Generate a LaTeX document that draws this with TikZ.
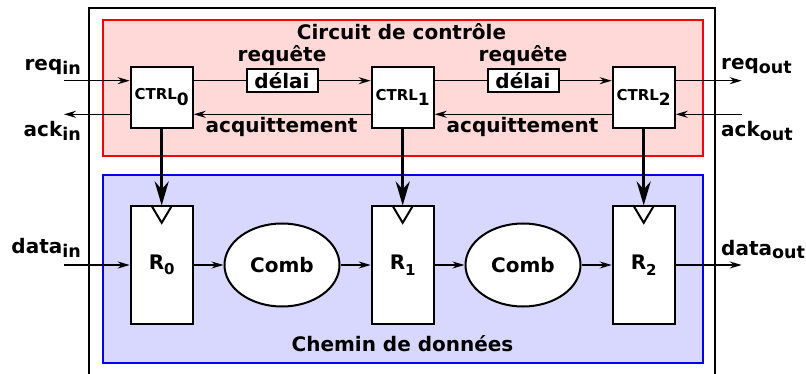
\documentclass[tikz,border=0pt]{standalone}
\usepackage{fontspec}
\setmainfont{DejaVu Sans}
\usetikzlibrary{arrows.meta,shapes.geometric}

\newcommand{\low}[2][3.5pt]{\raisebox{-#1}{#2}}
\newcommand{\fsz}[1]{\fontsize{#1}{#1}\selectfont\bfseries}

\definecolor{ctrlbg}{RGB}{255,216,216}
\definecolor{databg}{RGB}{216,216,255}

\begin{document}
\begin{tikzpicture}[x=1pt, y=-1pt]
    \tikzstyle{ctrl}=[draw=black, fill=white, line width=2pt, minimum width=62pt, minimum height=61pt, inner sep=0pt, font=\fsz{15}]
    \tikzstyle{reg}=[draw=black, fill=white, line width=2pt, minimum width=62pt, minimum height=117pt, inner sep=0pt, font=\fsz{20}]
    \tikzstyle{comb}=[ellipse, draw=black, fill=white, line width=2pt, minimum width=115pt, minimum height=83pt, inner sep=0pt, font=\fsz{20}]
    \tikzstyle{delay}=[draw=black, fill=white, line width=2pt, minimum width=71pt, minimum height=23pt, inner sep=0pt, font=\fsz{20}]
    \tikzstyle{txt}=[inner sep=0pt, font=\fsz{20}]
    \tikzstyle{wire}=[line width=1.5pt]
    \tikzstyle{arr}=[-{Stealth[length=12pt,width=7pt]}, line width=1.5pt]
    \tikzstyle{clk}=[-{Stealth[length=24pt,width=14pt]}, line width=3.2pt]

    \useasboundingbox (0,0) rectangle (806,374);

    % Frames
    \draw [line width=2.2pt] (89,380) -- (89,8) -- (715,8) -- (715,380);
    \draw [draw=red, fill=ctrlbg, line width=2pt] (102.7,20) rectangle (703,155.7);
    \draw [draw=blue, fill=databg, line width=2pt] (102.7,175) rectangle (703,363);
    \node at (401.5,40) [txt, anchor=base] (ctrl_title) {Circuit de contrôle};
    \node at (402.5,351.5) [txt, anchor=base] (data_title) {Chemin de données};

    % Ports
    \coordinate (req_in) at (64,80.7);
    \coordinate (ack_in) at (64,114.3);
    \coordinate (req_out) at (741.7,80.7);
    \coordinate (ack_out) at (741.7,114.3);
    \coordinate (data_in) at (64,265);
    \coordinate (data_out) at (741.7,265);

    % Controllers and registers
    \foreach \x in {0,...,2} {
    \node at (161.7+241*\x, 97.3) [ctrl] (ctrl_\x) {CTRL\low[5.5pt]{\fsz{17}\x}};
    \node at (161.7+241*\x, 265) [reg] (R_\x) {R\low[5.5pt]{\fsz{15}\x}};
    \draw [line width=2pt] (R_\x.north) ++(-10.3,0) -- ++(10.3,17.3) -- ++(10.3,-17.3);
    \draw [clk] (ctrl_\x.south) -- (R_\x.north);
    }

    % Stages
    \foreach \x/\y in {0/1,1/2} {
    \node at (282+241*\x, 80.7) [delay] (delay_\x) {délai};
    \node at (282+241*\x, 61.7) [txt, anchor=base] (req_\x) {requête};
    \node at (281.5+241*\x, 132.7) [txt, anchor=base] (ack_\x) {acquittement};
    \node at (282+241*\x, 265) [comb] (comb_\x) {Comb};
    \draw [wire] (delay_\x.west -| ctrl_\x.east) -- (delay_\x.west);
    \draw [arr] (delay_\x.east) -- (delay_\x.east -| ctrl_\y.west);
    \draw [arr] (ack_out -| ctrl_\y.west) -- (ack_out -| ctrl_\x.east);
    \draw [arr] (R_\x.east) -- (comb_\x.west);
    \draw [arr] (comb_\x.east) -- (R_\y.west);
    }

    % Inputs
    \draw [arr] (req_in) -- (req_in -| ctrl_0.west);
    \draw [arr] (ack_in -| ctrl_0.west) -- (ack_in);
    \draw [arr] (data_in) -- (R_0.west);
    \node at (81,71) [txt, anchor=base east] (lbl_req_in) {req\low{\fsz{17.5}in}};
    \node at (81,136.7) [txt, anchor=base east] (lbl_ack_in) {ack\low{\fsz{17.5}in}};
    \node at (81,254) [txt, anchor=base east] (lbl_data_in) {data\low{\fsz{17.5}in}};

    % Outputs
    \draw [arr] (req_out -| ctrl_2.east) -- (req_out);
    \draw [arr] (ack_out) -- (ack_out -| ctrl_2.east);
    \draw [arr] (R_2.east) -- (data_out);
    \node at (721,70) [txt, anchor=base west] (lbl_req_out) {req\low{\fsz{17.5}out}};
    \node at (721,136.7) [txt, anchor=base west] (lbl_ack_out) {ack\low{\fsz{17.5}out}};
    \node at (721,255) [txt, anchor=base west] (lbl_data_out) {data\low{\fsz{17.5}out}};

\end{tikzpicture}
\end{document}
